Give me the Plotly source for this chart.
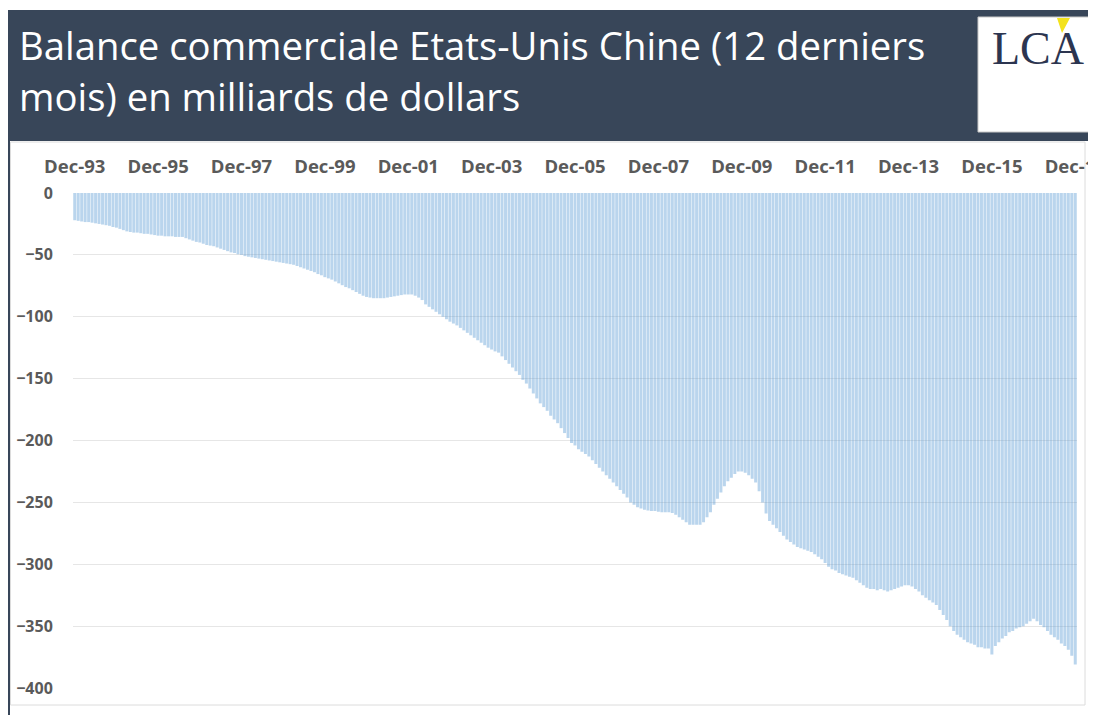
import pandas as pd
import plotly.graph_objects as go

# 12-month rolling US-China trade balance, bn USD, monthly from Dec-93 (each row Dec..Nov)
balance = [
    -22, -22.5, -23, -23.5, -23.5, -24, -24.5, -25, -25.5, -26, -26.5, -27.5,
    -28, -29, -30, -31, -31.5, -32, -32, -32.5, -33, -33, -33.5, -34,
    -34.5, -34.5, -35, -35, -35, -35.5, -35.5, -35.5, -36.5, -37.5, -38.5, -39.5,
    -40, -41, -42, -42.5, -43, -44, -45, -46, -47, -48, -48.5, -49.5,
    -50, -51, -51.5, -52, -52.5, -53, -53.5, -54, -54.5, -55, -55.5, -56,
    -56.5, -57, -57.5, -58, -59, -60, -61, -62, -63, -64, -65.5, -66.5,
    -68, -69, -70, -71.5, -73, -74.5, -76, -77, -78.5, -80, -81.5, -83,
    -84, -84.5, -85, -85, -85, -85, -84.5, -84, -83.5, -83, -82.5, -82,
    -82, -82, -83, -84.5, -86.5, -90, -92, -94, -96, -98, -100, -102,
    -104, -105.5, -107, -109, -111, -113, -115, -117, -119, -121, -123, -125,
    -126.5, -128, -129, -132, -135, -138, -141, -144, -147, -151, -154, -158,
    -162, -166, -170, -173, -176, -180, -183, -186, -190, -194, -198, -202,
    -204, -207, -209, -211, -213, -216, -219, -222, -225, -228, -231, -234,
    -237, -240, -243, -246, -250, -252, -254, -255, -256, -256.5, -257, -257,
    -257.5, -258, -258, -258, -258.5, -260, -262, -264, -266, -268, -268, -268,
    -268, -266, -262, -258, -252, -247, -242, -237, -233, -230, -227, -225,
    -225, -226, -228, -231, -234, -241, -250, -259, -265, -268, -271, -274,
    -277, -280, -282, -284, -286, -287, -288, -289, -290, -292, -294, -296,
    -299, -302, -304, -305, -307, -308, -309, -310, -311, -313, -315, -317,
    -319, -320, -320, -321, -320, -321, -322, -321, -320, -319, -318, -317,
    -317, -318, -320, -322, -325, -327, -329, -331, -333, -337, -341, -345,
    -350, -354, -357, -359, -361, -363, -364, -365, -367, -367, -368, -368,
    -373, -366, -363, -360, -358, -355, -354, -352, -351, -350, -348, -346,
    -344, -346, -349, -351, -354, -357, -359, -361, -364, -366, -369, -374, -381,
]
months = pd.date_range('1993-12-01', periods=len(balance), freq='MS').strftime('%b-%y').tolist()
tick_labels = ['Dec-93', 'Dec-95', 'Dec-97', 'Dec-99', 'Dec-01', 'Dec-03', 'Dec-05',
               'Dec-07', 'Dec-09', 'Dec-11', 'Dec-13', 'Dec-15', 'Dec-17']
y_ticks = [0, -50, -100, -150, -200, -250, -300, -350, -400]

title_lines = ['Balance commerciale Etats-Unis Chine (12 derniers', 'mois) en milliards de dollars']

# the page body has an 8px margin: keep the figure inside the window, work in page pixels
OFF = 8
W, H = 1096 - 2 * OFF, 723 - 2 * OFF
PL, PR, PT, PB = 73 - OFF, 1077 - OFF, 193 - OFF, 688 - OFF
HEADER = '#384659'


def px(x):
    return (x - OFF - PL) / (PR - PL)


def py(y):
    return (PB - (y - OFF)) / (PB - PT)


def rect(x0, y0, x1, y1, **kw):
    return dict(type='rect', xref='paper', yref='paper',
                x0=px(x0), x1=px(x1), y0=py(y1), y1=py(y0), **kw)


fig = go.Figure(go.Bar(
    x=months, y=balance,
    marker=dict(color='rgba(91,155,213,0.42)', line=dict(width=0)),
    hoverinfo='skip',
))

shapes = [
    rect(OFF, 10, 1100, 141, fillcolor=HEADER, line_width=0, layer='below'),
    rect(OFF, 141, 10, 730, fillcolor=HEADER, line_width=0, layer='below'),
    rect(10.5, 142, 1085, 705, fillcolor='rgba(0,0,0,0)', line=dict(color='#dcdcdc', width=1), layer='below'),
    rect(978, 17, 1100, 132, fillcolor='white', line=dict(color='#c8c8c8', width=1)),
    dict(type='path', xref='paper', yref='paper',
         path=f'M {px(1057)} {py(18)} L {px(1070)} {py(18)} L {px(1062)} {py(33)} Z',
         fillcolor='#f3e21c', line_width=0),
]

annotations = [
    dict(text=title_lines[0], x=px(17), y=py(45), xanchor='left', yanchor='middle'),
    dict(text=title_lines[1], x=px(17), y=py(96), xanchor='left', yanchor='middle'),
]
for a in annotations:
    a.update(xref='paper', yref='paper', showarrow=False,
             font=dict(family='Open Sans', size=38.3, color='white'))
annotations.append(dict(text='LCA', x=px(1038), y=py(49), xref='paper', yref='paper',
                        showarrow=False, xanchor='center', yanchor='middle',
                        font=dict(family='Liberation Serif', size=46, color='#2c3550')))

fig.update_layout(
    width=W, height=H,
    margin=dict(l=PL, r=W - PR, t=PT, b=H - PB),
    paper_bgcolor='white', plot_bgcolor='white',
    bargap=0.14, showlegend=False,
    shapes=shapes, annotations=annotations,
    font=dict(family='Open Sans', color='#595959'),
    xaxis=dict(type='category', side='top', range=[-0.5, len(balance) - 0.5],
               tickmode='array', tickvals=tick_labels, ticktext=tick_labels,
               ticks='outside', ticklen=12, tickcolor='rgba(0,0,0,0)',
               tickfont=dict(size=18.5, color='#5a5a5a', weight='bold'),
               showgrid=False, showline=False, zeroline=False, tickangle=0,
               automargin=False),
    yaxis=dict(range=[-400, 0], tickvals=y_ticks,
               ticks='outside', ticklen=16, tickcolor='rgba(0,0,0,0)',
               tickfont=dict(size=16, color='#5a5a5a', weight='bold'),
               showgrid=True, gridcolor='#e6e6e6', gridwidth=1,
               zeroline=False, showline=False, automargin=False),
)

fig.write_html('out.html')
